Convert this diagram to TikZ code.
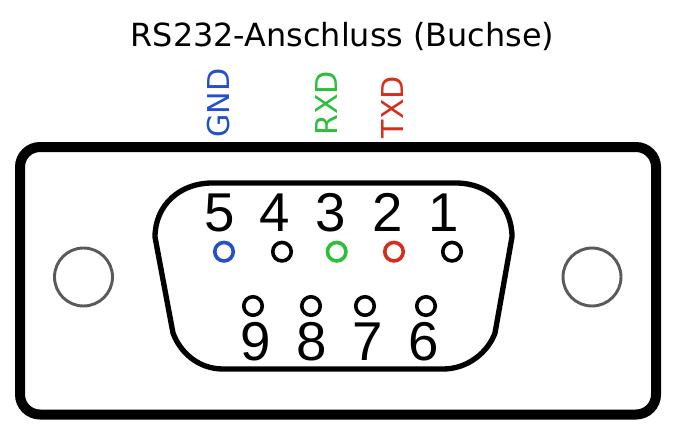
\documentclass[tikz,border=0pt]{standalone}
\usepackage{fontspec}
\setmainfont{DejaVu Sans}
\newfontfamily\digitfont{Liberation Sans}
\definecolor{gndblue}{HTML}{2450C8}
\definecolor{rxdgreen}{HTML}{2DBE3C}
\definecolor{txdred}{HTML}{D2301C}
\definecolor{holegray}{HTML}{5A5A5A}
\tikzset{
  x=0.75pt,y=-0.75pt,
  housing/.style={line width=7.5pt,rounded corners=15pt},
  shell/.style={line width=4pt,line join=round},
  hole/.style={circle,draw=holegray,line width=2.2pt,minimum size=58*0.75pt,inner sep=0pt},
  pin/.style={circle,draw=#1,line width=2.7pt,minimum size=18.5*0.75pt,inner sep=0pt},
  pin/.default=black,
  digit/.style={font=\digitfont\fontsize{41}{41}\selectfont,inner sep=0pt,anchor=center},
  title/.style={font=\fontsize{23.9}{28}\selectfont,inner sep=0pt,anchor=base},
  signal/.style={font=\fontsize{22.6}{27}\selectfont,inner sep=0pt,anchor=base,rotate=90,text=#1},
}
\begin{document}
\begin{tikzpicture}
\useasboundingbox (0,0) rectangle (677,432);
\fill[white] (0,0) rectangle (677,432);
\draw[housing] (20,147) rectangle (656,414.5);
\node[hole] (holeL) at (83.5,277) {};
\node[hole] (holeR) at (592,277) {};
\draw[shell] (155,237)
  .. controls (155,205) and (180,183) .. (212,183)
  -- (456,183)
  .. controls (488,183) and (512,205) .. (512,237)
  -- (495,333)
  .. controls (488,352) and (468,369) .. (443,369)
  -- (223,369)
  .. controls (198,369) and (180,352) .. (173,333)
  -- cycle;
\node[title] (title) at (342.5,46) {RS232-Anschluss (Buchse)};
\node[signal=gndblue] (gnd) at (229,103) {GND};
\node[signal=rxdgreen] (rxd) at (337,103.5) {RXD};
\node[signal=txdred] (txd) at (403,107) {TXD};
\node[pin=gndblue] (p5) at (224,251.7) {};
\node[pin] (p4) at (282,251.7) {};
\node[pin=rxdgreen] (p3) at (336.7,251.7) {};
\node[pin=txdred] (p2) at (394,251.7) {};
\node[pin] (p1) at (452,251.7) {};
\node[pin] (p9) at (253,306) {};
\node[pin] (p8) at (311,306) {};
\node[pin] (p7) at (365,306) {};
\node[pin] (p6) at (426,306) {};
\node[digit] (d5) at (219.5,212.5) {5};
\node[digit] (d4) at (275,212.5) {4};
\node[digit] (d3) at (331,212.5) {3};
\node[digit] (d2) at (387.5,212.5) {2};
\node[digit] (d1) at (444,212.5) {1};
\node[digit] (d9) at (256,341.5) {9};
\node[digit] (d8) at (312,341.5) {8};
\node[digit] (d7) at (368,341.5) {7};
\node[digit] (d6) at (424,341.5) {6};
\end{tikzpicture}
\end{document}
